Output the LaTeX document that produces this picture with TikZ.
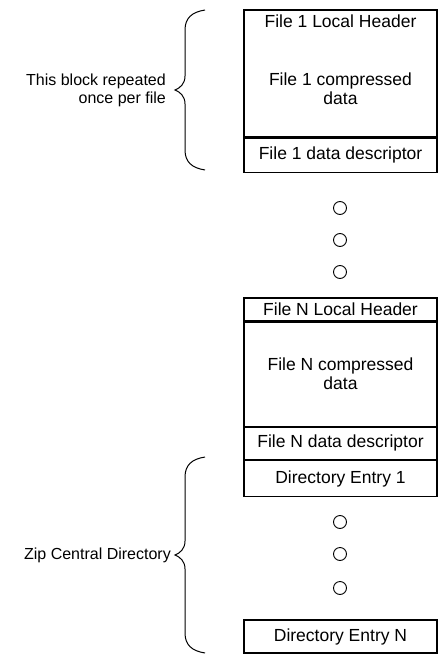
\documentclass[tikz,border=0pt]{standalone}
\usepackage{fontspec}
\setmainfont{Liberation Sans}
\usetikzlibrary{positioning}

\begin{document}
\begin{tikzpicture}[x=1pt, y=-1pt,
  cell/.style={draw, line width=1.2pt, minimum width=193pt, inner sep=0pt, font=\fontsize{17.5}{19}\selectfont, align=center},
  txt/.style={inner sep=0pt, font=\fontsize{17.5}{19}\selectfont, align=center},
  lbl/.style={inner sep=0pt, font=\fontsize{16}{18}\selectfont},
  ring/.style={draw, circle, line width=0.9pt, minimum size=13pt, inner sep=0pt},
  brc/.style={line width=1pt},
]
\useasboundingbox (0,0) rectangle (438,655);
% first file block
\node[cell, minimum height=127pt] (blk1) at (340.5,73.5) {};
\node[txt, below=5pt of blk1.north] (hdr1) {File 1 Local Header};
\node[txt] (data1) at (340.5,89) {File 1 compressed\\data};
\node[cell, minimum height=34pt, below=0pt of blk1] (desc1) {File 1 data descriptor};
% ellipsis
\node[ring] (d1) at (340,208) {};
\node[ring] (d2) at (340,240) {};
\node[ring] (d3) at (340,272) {};
% last file block and directory
\node[cell, minimum height=23pt] (hdrN) at (340.5,309.5) {File N Local Header};
\node[cell, minimum height=104pt, below=0pt of hdrN] (dataN) {File N compressed\\data};
\node[cell, minimum height=32pt, below=0pt of dataN] (descN) {File N data descriptor};
\node[cell, minimum height=36pt, below=0pt of descN] (dir1) {Directory Entry 1};
\node[ring] (d4) at (340,522) {};
\node[ring] (d5) at (340,554) {};
\node[ring] (d6) at (340,588) {};
\node[cell, minimum height=33pt] (dirN) at (340.5,636.5) {Directory Entry N};
% braces
\coordinate (b1top) at (205,10);
\coordinate (b1tip) at (175,90);
\coordinate (b1bot) at (205,170);
\draw[brc] (b1top) .. controls (192,12) and (185,18) .. (185,30) -- (185,76)
  .. controls (185,84) and (180,88) .. (b1tip)
  .. controls (180,92) and (185,96) .. (185,104) -- (185,150)
  .. controls (185,162) and (192,168) .. (b1bot);
\node[lbl, align=right, left=9pt of b1tip] (lbl1) {This block repeated\\once per file};
\coordinate (b2top) at (205,457);
\coordinate (b2tip) at (175,555);
\coordinate (b2bot) at (205,653);
\draw[brc] (b2top) .. controls (192,459) and (185,465) .. (185,477) -- (185,541)
  .. controls (185,549) and (180,553) .. (b2tip)
  .. controls (180,557) and (185,561) .. (185,569) -- (185,633)
  .. controls (185,645) and (192,651) .. (b2bot);
\node[lbl, left=4pt of b2tip] (lbl2) {Zip Central Directory};
\end{tikzpicture}
\end{document}
